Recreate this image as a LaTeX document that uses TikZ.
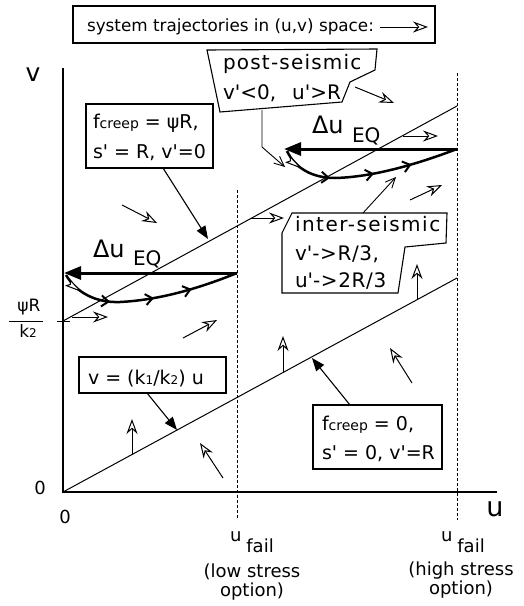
\documentclass[tikz,border=0pt]{standalone}
\usepackage{fontspec}
\setmainfont{DejaVu Sans}
\newfontfamily\postfont[LetterSpace=6]{DejaVu Sans}
\newfontfamily\interfont[LetterSpace=7.5]{DejaVu Sans}
\newfontfamily\semiwidefont[LetterSpace=3]{DejaVu Sans}
\usetikzlibrary{arrows.meta,decorations.markings}
\newcommand\fs[1]{\fontsize{#1}{#1}\selectfont}
\newcommand\qq{\textquotesingle}
\begin{document}
\begin{tikzpicture}[x=1pt,y=-1pt,
  every node/.style={inner sep=0pt,outer sep=0pt},
  frame/.style={draw,line width=1.2pt,inner sep=0pt},
  lbl/.style={font=\fs{19},anchor=base west},
  callout/.style={font=\fs{20},anchor=base west},
  axis/.style={line width=2.6pt},
  eqline/.style={line width=1pt},
  fail/.style={line width=1pt,dash pattern=on 2.5pt off 2.5pt},
  traj/.style={line width=1pt,-{Stealth[open,length=15pt,width=11pt,inset=5pt]}},
  ptr/.style={line width=1.1pt,-{Triangle[length=13pt,width=10pt]}},
  vptr/.style={line width=0.9pt,-{Straight Barb[length=10pt,width=9pt]}},
  jump/.style={line width=3pt,-{Triangle[length=17pt,width=13pt]}},
  cyc/.style={line width=2.5pt,postaction={decorate},decoration={markings,
    mark=at position 0.13 with {\arrow[line width=1pt]{Stealth[fill=white,length=18pt,width=8pt,inset=3pt]}},
    mark=at position 0.29 with {\arrow[line width=2pt]{Straight Barb[length=7pt,width=11pt]}},
    mark=at position 0.53 with {\arrow[line width=2pt]{Straight Barb[length=7pt,width=11pt]}},
    mark=at position 0.74 with {\arrow[line width=2pt]{Straight Barb[length=7pt,width=11pt]}}}}
]
\useasboundingbox (0,0) rectangle (524,606);

% legend box
\node[frame,minimum width=362pt,minimum height=37pt] (legend) at (254,24.5) {};
\node[font=\fs{16.8},anchor=base west] (legtext) at (87,31) {system trajectories in (u,v) space:};
\coordinate (lega) at (380,27);
\coordinate (legb) at (428,27);
\draw[traj] (lega) -- (legb);

% axes
\coordinate (O) at (63,492);
\coordinate (vtop) at (63,68);
\coordinate (uend) at (497,492);
\draw[axis] (vtop) -- (O) -- (uend);
\node[font=\fs{25}] (vlab) at (33,75) {v};
\node[font=\fs{27}] (ulab) at (495,509) {u};
\node[font=\fs{18}] (zv) at (40,488) {0};
\node[font=\fs{18}] (zu) at (65,517) {0};

% failure lines
\coordinate (lft) at (237,190);
\coordinate (lfb) at (237,518);
\coordinate (hft) at (457,73);
\coordinate (hfb) at (457,520);
\draw[fail] (lft) -- (lfb);
\draw[fail] (hft) -- (hfb);
\node[font=\fs{18},anchor=base west] (ulow) at (230,541) {u\hspace{5pt}\raisebox{-11pt}{fail}};
\node[font=\fs{18},align=center] (optlow) at (252,582) {(low stress\\[1pt]option)};
\node[font=\fs{18},anchor=base west] (uhigh) at (441,541) {u\hspace{5pt}\raisebox{-11pt}{fail}};
\node[font=\fs{18},align=center] (opthigh) at (461,580) {(high stress\\[1pt]option)};

% steady-state lines
\coordinate (psi) at (63,321);
\coordinate (ue) at (457,106);
\coordinate (le) at (457,278);
\coordinate (ticka) at (57,321);
\coordinate (tickb) at (70,321);
\draw[eqline] (psi) -- (ue);
\draw[eqline] (O) -- (le);
\draw[eqline] (ticka) -- (tickb);
\node[font=\fs{17}] (psir) at (29,307) {ψR};
\coordinate (bara) at (9,321);
\coordinate (barb) at (43,321);
\draw[line width=1pt] (bara) -- (barb);
\node[font=\fs{17}] (k2) at (28,331) {k{\fs{12}2}};

% earthquake jumps
\coordinate (j1a) at (237,273);
\coordinate (j1b) at (64,273);
\draw[jump] (j1a) -- (j1b);
\coordinate (j2a) at (457,149);
\coordinate (j2b) at (284,149);
\draw[jump] (j2a) -- (j2b);
\node[font=\fs{24},anchor=base west] (du1) at (93,257) {Δu};
\node[font=\fs{20},anchor=base west] (eq1) at (133,265) {EQ};
\node[font=\fs{24},anchor=base west] (du2) at (312,133) {Δu};
\node[font=\fs{20},anchor=base west] (eq2) at (352,142) {EQ};

% seismic cycles
\coordinate (c1s) at (66,275);
\coordinate (c1m) at (120,302);
\draw[cyc] (c1s) .. controls (76,292) and (95,303) .. (c1m) .. controls (160,300) and (200,288) .. (j1a);
\coordinate (c2s) at (287,151);
\coordinate (c2m) at (335,178);
\draw[cyc] (c2s) .. controls (295,168) and (312,178) .. (c2m) .. controls (375,177) and (420,163) .. (j2a);

% trajectory arrows
\coordinate (t1a) at (122,205); \coordinate (t1b) at (157,223);
\coordinate (t2a) at (250,218); \coordinate (t2b) at (284,218);
\coordinate (t3a) at (72,317);  \coordinate (t3b) at (108,317);
\coordinate (t4a) at (183,338); \coordinate (t4b) at (217,320);
\coordinate (t5a) at (355,87);  \coordinate (t5b) at (394,103);
\coordinate (t6a) at (403,136); \coordinate (t6b) at (438,136);
\coordinate (t7a) at (410,200); \coordinate (t7b) at (442,185);
\coordinate (t8a) at (417,300); \coordinate (t8b) at (417,264);
\coordinate (t9a) at (132,455); \coordinate (t9b) at (132,419);
\coordinate (t10a) at (283,372); \coordinate (t10b) at (283,336);
\coordinate (t11a) at (223,478); \coordinate (t11b) at (200,443);
\coordinate (t12a) at (412,383); \coordinate (t12b) at (390,348);
\foreach \i in {1,...,12} \draw[traj] (t\i a) -- (t\i b);

% f_creep = psi R box
\node[frame,minimum width=127pt,minimum height=64pt] (fc) at (149.5,136) {};
\node[lbl] (fc1) at (93,128) {f{\fs{14}creep} = ψR,};
\node[lbl] (fc2) at (93,158) {s\qq{} = R, v\qq{}=0};
\coordinate (fctip) at (208,239);
\draw[ptr] (163,168) -- (fctip);

% v = (k1/k2) u box
\node[frame,minimum width=147pt,minimum height=36pt] (vk) at (152.5,375) {};
\node[lbl] (vk1) at (88,384) {v = (k{\fs{12}1}/k{\fs{12}2}) u};
\coordinate (vktip) at (177,430);
\draw[ptr] (147,393) -- (vktip);

% f_creep = 0 box
\node[frame,minimum width=129pt,minimum height=64pt] (f0) at (377.5,437) {};
\node[lbl] (f01) at (322,430) {f{\fs{14}creep} = 0,};
\node[lbl] (f02) at (322,459) {s\qq{} = 0, v\qq{}=R};
\coordinate (f0tip) at (312,358);
\draw[ptr] (350,405) -- (f0tip);

% post-seismic callout
\draw[line width=1.1pt] (207,50) -- (377,49) -- (375,70) -- (350,82) -- (342,102) -- (220,112) -- cycle;
\node[callout] (ps1) at (223,69) {\postfont post-seismic};
\node[callout] (ps2) at (223,99) {v\qq{}<0,\hspace{16pt}u\qq{}>R};
\coordinate (psfoot) at (262,110);
\coordinate (psbend) at (262,147);
\coordinate (pstip) at (285,167);
\draw[vptr] (psfoot) -- (psbend) -- (pstip);

% inter-seismic callout
\draw[line width=1.1pt] (292,213) -- (447,213) -- (446,243) -- (405,247) -- (398,293) -- (282,293) -- (282,233) -- cycle;
\node[callout] (is1) at (295,231) {\interfont inter-seismic};
\node[callout] (is2) at (295,260) {\semiwidefont v\qq{}->R/3,};
\node[callout] (is3) at (295,287) {\semiwidefont u\qq{}->2R/3};
\coordinate (isfoot) at (363,213);
\coordinate (istip) at (396,177);
\draw[vptr] (isfoot) -- (istip);
\end{tikzpicture}
\end{document}
